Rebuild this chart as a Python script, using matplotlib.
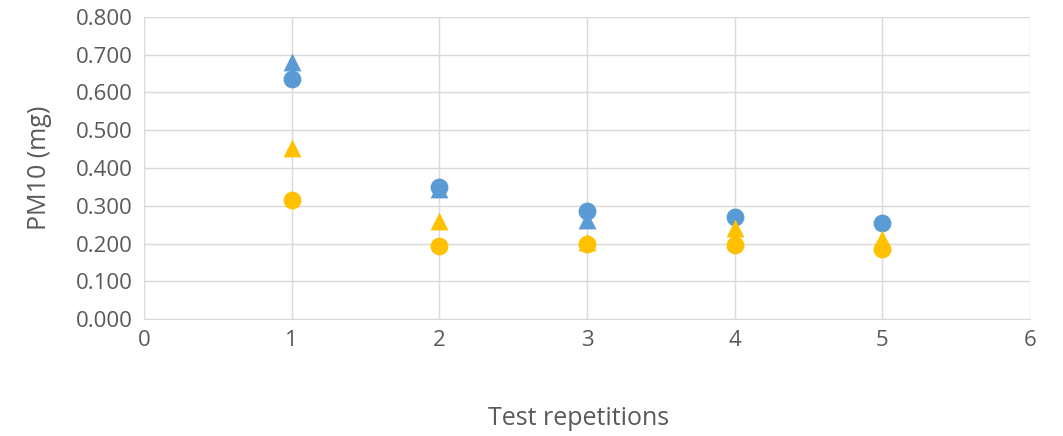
import numpy as np
import matplotlib.pyplot as plt

reps = [1, 2, 3, 4, 5]
blue_tri = [0.681, 0.345, 0.263, 0.213, 0.205]
blue_circ = [0.636, 0.350, 0.286, 0.270, 0.253]
yellow_tri = [0.453, 0.260, 0.203, 0.241, 0.213]
yellow_circ = [0.315, 0.193, 0.200, 0.197, 0.185]

BLUE = "#5B9BD5"
YELLOW = "#FFC000"

plt.rcParams['font.family'] = ['Open Sans', 'DejaVu Sans']

fig = plt.figure(figsize=(10.63, 4.36), dpi=100)
ax = fig.add_axes([144 / 1063, 1 - 319 / 436, (1030 - 144) / 1063, (319 - 17) / 436])

ms = 165
ax.scatter(reps, blue_tri, marker="^", s=ms, color=BLUE, zorder=3, linewidths=0)
ax.scatter(reps, blue_circ, marker="o", s=ms, color=BLUE, zorder=3, linewidths=0)
ax.scatter(reps, yellow_tri, marker="^", s=ms, color=YELLOW, zorder=3, linewidths=0)
ax.scatter(reps, yellow_circ, marker="o", s=ms, color=YELLOW, zorder=3, linewidths=0)

ax.set_xlim(0, 6)
ax.set_ylim(0, 0.8)
ax.set_xticks(range(0, 7))
ax.set_yticks(np.arange(0, 0.81, 0.1))
ax.set_yticklabels([f"{v:.3f}" for v in np.arange(0, 0.81, 0.1)])
ax.grid(True, color="#D9D9D9", linewidth=1)
ax.set_axisbelow(True)
for side in ["top", "right"]:
    ax.spines[side].set_visible(False)
for side in ["left", "bottom"]:
    ax.spines[side].set_color("#D9D9D9")
ax.tick_params(length=0, labelsize=16, colors="#595959", pad=8)

ax.set_ylabel("PM10 (mg)", fontsize=18, color="#595959")
ax.yaxis.set_label_coords(-0.104, 0.5)
ax.set_xlabel("Test repetitions", fontsize=18, color="#595959", va="center")
ax.xaxis.set_label_coords(0.49, -0.33)

fig.savefig("out.png", dpi=100)
